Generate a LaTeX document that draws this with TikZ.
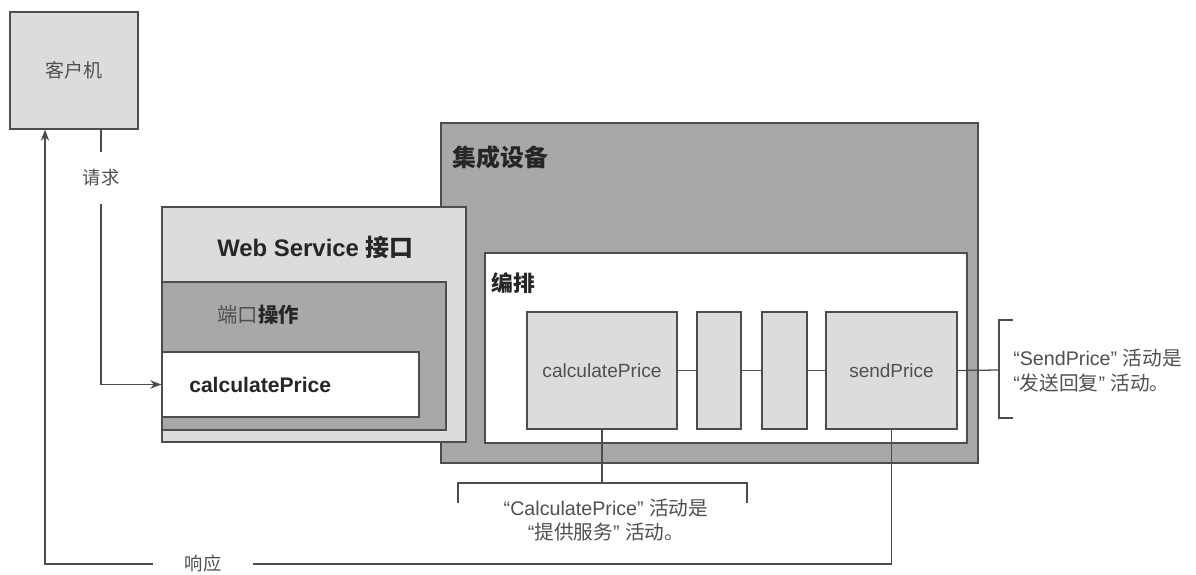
\documentclass[tikz,border=0pt]{standalone}
\usepackage{fontspec}
\setmainfont{Liberation Sans}
\newfontfamily\zh{Noto Sans CJK SC}
\usetikzlibrary{fit,arrows.meta}
\definecolor{edgec}{HTML}{4D4D4D}
\definecolor{lightg}{HTML}{DCDCDC}
\definecolor{darkg}{HTML}{A8A8A8}
\definecolor{txtg}{HTML}{505050}
\definecolor{txtd}{HTML}{262626}
\tikzset{
  bx/.style={draw=edgec, line width=0.8pt, inner sep=0pt},
  conn/.style={draw=edgec, line width=0.9pt},
  arr/.style={conn, -{Stealth[length=8pt,width=6pt]}},
  lbl/.style={inner sep=0pt, text=txtg},
}
\begin{document}
\begin{tikzpicture}[x=0.025cm,y=-0.025cm]
\useasboundingbox (0,0) rectangle (1196,574);
% client
\node[bx, fill=lightg, fit={(10,12) (138,129)}] (client) {};
\node[lbl, font=\zh\fontsize{13.5}{16}\selectfont] (clienttxt) at (client.center) {客户机};
% integration device
\node[bx, fill=darkg, fit={(441,123) (978,463)}] (integ) {};
\node[lbl, anchor=west, text=txtd, font=\zh\bfseries\fontsize{17}{20}\selectfont] (integtxt) at (452,157) {集成设备};
% orchestration
\node[bx, fill=white, fit={(485,253) (967,443)}] (orch) {};
\node[lbl, anchor=west, text=txtd, font=\zh\bfseries\fontsize{15.5}{18}\selectfont] (orchtxt) at (491,283) {编排};
% activities
\node[bx, fill=lightg, fit={(527,312) (677,429)}] (calc) {};
\node[lbl, font=\fontsize{13.6}{16}\selectfont] (calctxt) at (calc.center) {calculatePrice};
\node[bx, fill=lightg, fit={(697,312) (741,429)}] (s1) {};
\node[bx, fill=lightg, fit={(762,312) (807,429)}] (s2) {};
\node[bx, fill=lightg, fit={(826,312) (957,429)}] (send) {};
\node[lbl, font=\fontsize{13.5}{16}\selectfont] (sendtxt) at (send.center) {sendPrice};
% web service interface
\node[bx, fill=lightg, fit={(162,207) (466,442)}] (ws) {};
\node[lbl, anchor=west, text=txtd, font=\bfseries\fontsize{17}{20}\selectfont] (wstxt) at (217,247) {Web Service {\zh 接口}};
\node[bx, fill=darkg, fit={(162,282) (446,430)}] (wsport) {};
\node[lbl, anchor=west, font=\zh\fontsize{14.5}{17}\selectfont] (wsporttxt) at (217,315) {端口{\bfseries\color{txtd}操作}};
\node[bx, fill=white, fit={(162,352) (419,417)}] (wsop) {};
\node[lbl, anchor=west, text=txtd, font=\bfseries\fontsize{15}{18}\selectfont] (wsoptxt) at (189,385) {calculatePrice};
% chain
\draw[conn] (calc.east) -- (s1.west);
\draw[conn] (s1.east) -- (s2.west);
\draw[conn] (s2.east) -- (send.west);
% right note
\coordinate (bR) at (999,370);
\draw[conn] (send.east) -- (bR);
\draw[conn] (1013,320) -- (999,320) -- (999,418) -- (1013,418);
\node[lbl, anchor=west, align=left, font=\fontsize{14}{17.7}\selectfont] (noteR) at (1013,371)
  {“SendPrice” {\zh 活动是}\\“{\zh 发送回复}” {\zh 活动。}};
% bottom note
\coordinate (bB) at (calc.south |- 0,483);
\draw[conn] (calc.south) -- (bB);
\draw[conn] (458,503) -- (458,483) -- (747,483) -- (747,503);
\node[lbl, align=center, font=\fontsize{14}{17.2}\selectfont] (noteB) at (606,520)
  {“CalculatePrice” {\zh 活动是}\\“{\zh 提供服务}” {\zh 活动。}};
% request
\node[lbl, minimum height=1.3cm, font=\zh\fontsize{13}{15}\selectfont] (req) at (101,178) {请求};
\draw[conn] (client.south -| req.north) -- (req.north);
\draw[arr] (req.south) |- (wsop.west);
% response
\node[lbl, minimum width=2.5cm, font=\zh\fontsize{13}{15}\selectfont] (resp) at (203,564) {响应};
\coordinate (rx) at (45,564);
\draw[conn] (send.south) |- (resp.east);
\draw[arr] (resp.west) -- (rx) -- (rx |- client.south);
\end{tikzpicture}
\end{document}
